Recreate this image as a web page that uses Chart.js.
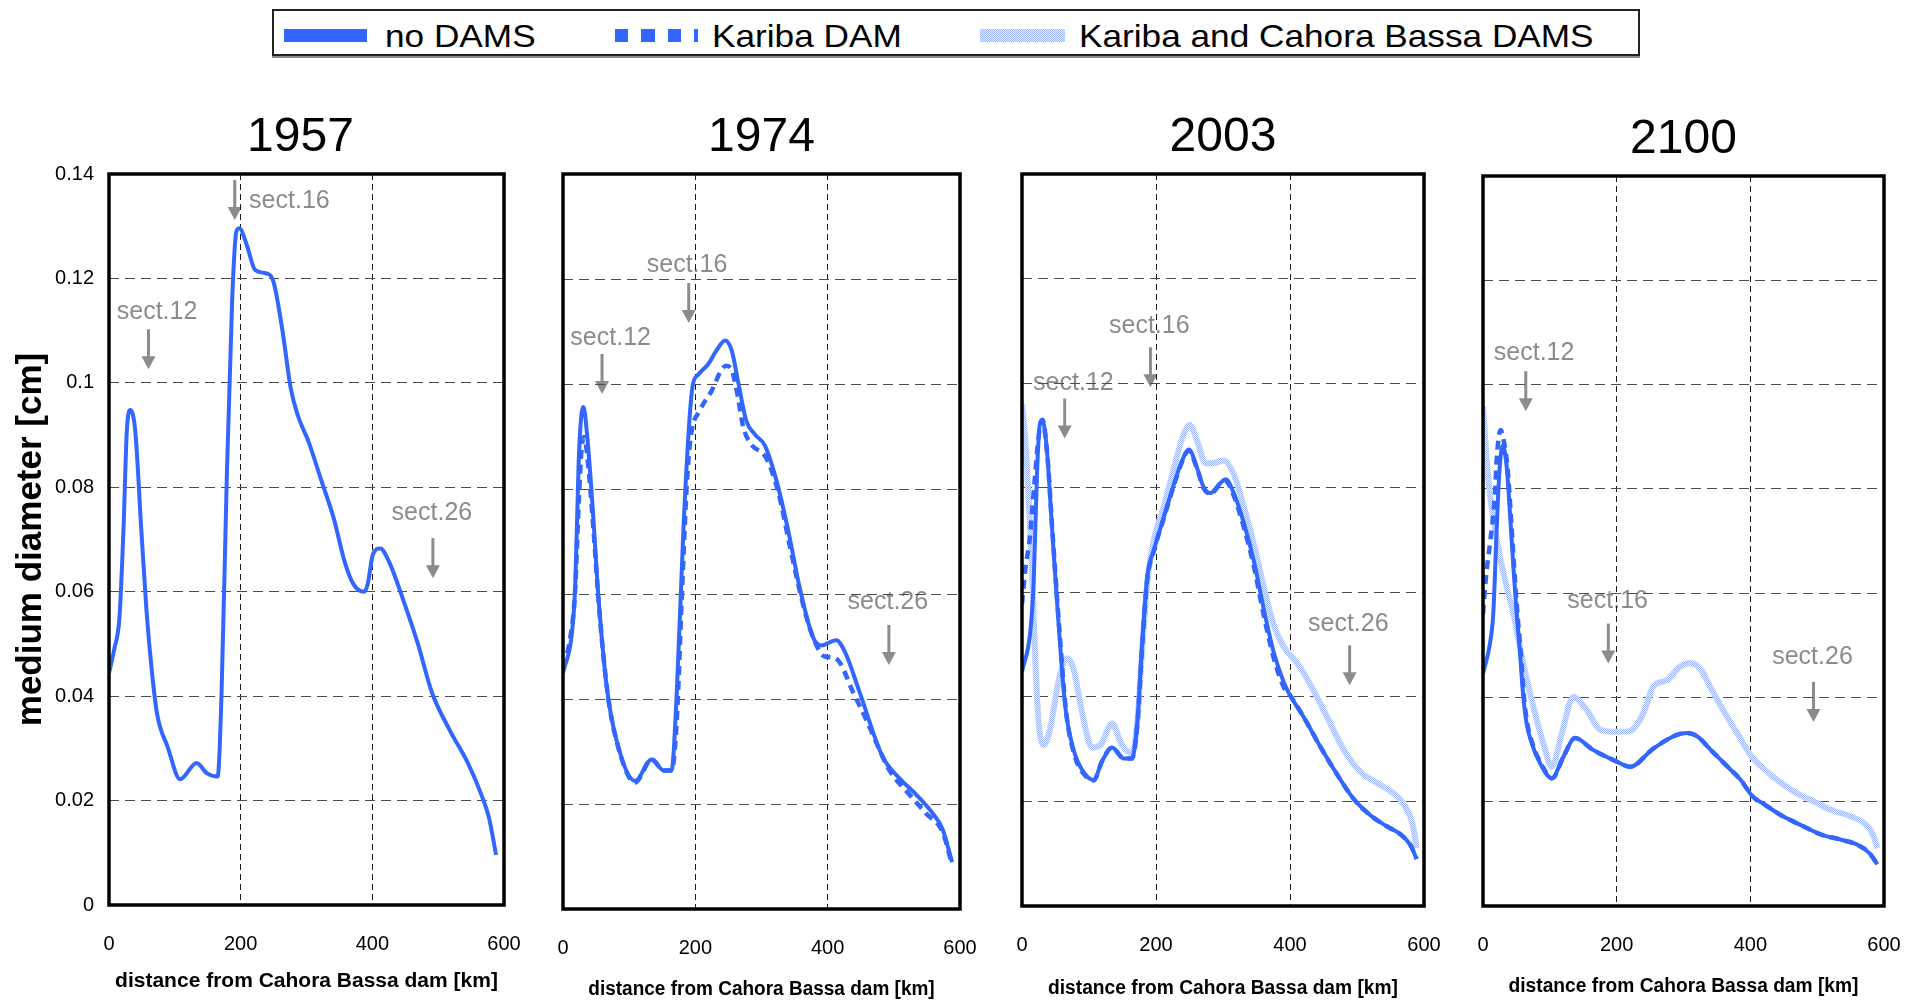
<!DOCTYPE html>
<html>
<head>
<meta charset="utf-8">
<title>Medium diameter along the Zambezi</title>
<script src="https://cdn.jsdelivr.net/npm/chart.js@4.4.1/dist/chart.umd.min.js"></script>
<style>
  html, body { margin: 0; padding: 0; background: #fff; }
  body { width: 1919px; height: 1004px; position: relative; overflow: hidden;
         font-family: "Liberation Sans", Arial, sans-serif; }
  canvas { position: absolute; }
  #legend { position: absolute; left: 272px; top: 9px; width: 1364px; height: 43px;
            border: 2px solid #222; box-shadow: 0 2px 0 #8a8a8a; background: #fff; }
  #legend .sw { position: absolute; top: 18px; height: 13px; }
  #legend .lt { position: absolute; top: 9px; font-size: 32px; line-height: 32px; color: #000;
                white-space: nowrap; transform: scaleX(1.1); transform-origin: 0 50%; }
</style>
</head>
<body>
<div id="legend">
  <div class="sw" id="sw0" style="left:10px;width:83px;background:#3366ff"></div>
  <span class="lt" id="lt0" style="left:111px"></span>
  <div class="sw" id="sw1" style="left:341px;width:83px;background:repeating-linear-gradient(90deg,#3366ff 0 13px,transparent 13px 26.5px)"></div>
  <span class="lt" id="lt1" style="left:438px"></span>
  <div class="sw" id="sw2" style="left:706px;width:85px;background:repeating-conic-gradient(#9fb6ff 0 25%,#e8edff 0 50%) 0 0/2px 2px"></div>
  <span class="lt" id="lt2" style="left:805px"></span>
</div>
<script>
// ---- labels ----
const seriesNames = ['no DAMS', 'Kariba DAM', 'Kariba and Cahora Bassa DAMS'];
const years = ['1957', '1974', '2003', '2100'];
const xTickLabels = ['0', '200', '400', '600'];
const yTickLabels = ['0', '0.02', '0.04', '0.06', '0.08', '0.1', '0.12', '0.14'];
const xTitle = 'distance from Cahora Bassa dam [km]';
const yTitle = 'medium diameter [cm]';
const noteLabels = ['sect.12', 'sect.16', 'sect.26'];

// ---- 1957: no dams ----
const km1957 = [0, 8, 16, 22, 27, 32.5, 40, 49, 57, 65, 73, 89, 108, 133, 149, 165, 171, 179, 187, 193.5, 198, 209, 222, 238, 249, 263, 276, 287, 303.5, 322.5, 341.5, 358, 371, 387.5, 393, 401, 412, 425.5, 447, 469, 490.5, 517.5, 545, 566, 577, 588];
const dia1957 = [0.0444, 0.049, 0.0553, 0.072, 0.0906, 0.0948, 0.0906, 0.072, 0.0563, 0.0449, 0.0366, 0.0303, 0.0241, 0.0272, 0.0252, 0.0246, 0.0407, 0.0823, 0.1156, 0.129, 0.1296, 0.1265, 0.1216, 0.121, 0.1197, 0.1104, 0.099, 0.0937, 0.0886, 0.0813, 0.074, 0.0657, 0.0615, 0.060, 0.0615, 0.0672, 0.0683, 0.0657, 0.0584, 0.0501, 0.0407, 0.0335, 0.0272, 0.021, 0.0168, 0.0096];

// ---- 1974: no dams / Kariba ----
const km1974 = [0, 13.6, 18.6, 23.6, 27, 31, 36, 43.7, 53.8, 66, 81, 109, 134, 152, 164, 172, 182, 191, 196, 204.5, 219.6, 232, 245, 255, 265, 277, 290, 305, 322.6, 340, 358, 378, 390.5, 413, 425.6, 448, 483, 508.5, 533.7, 558.8, 574, 588];
const dia1974 = [0.045, 0.0527, 0.062, 0.0847, 0.093, 0.0956, 0.0909, 0.0785, 0.059, 0.0424, 0.0321, 0.0244, 0.0285, 0.0264, 0.0264, 0.0414, 0.0723, 0.093, 0.0997, 0.1018, 0.1038, 0.1064, 0.1083, 0.1064, 0.1002, 0.093, 0.0904, 0.0883, 0.0816, 0.0723, 0.061, 0.0517, 0.0502, 0.0512, 0.0491, 0.0414, 0.029, 0.0249, 0.0218, 0.0182, 0.0151, 0.0089];
const km1974K = [0, 11, 18, 24, 28, 32, 38.7, 46, 54.8, 67, 82, 109, 134, 152, 164, 172, 179.4, 187, 193, 207, 224.6, 240, 247, 256, 265, 272, 282, 307.5, 325, 342.7, 363, 378, 395.5, 405, 418, 438, 456, 476, 493.5, 523.6, 548.7, 574, 586];
const dia1974K = [0.046, 0.0517, 0.06, 0.078, 0.0875, 0.0899, 0.0837, 0.0723, 0.057, 0.0415, 0.0315, 0.0241, 0.0285, 0.0264, 0.0264, 0.036, 0.059, 0.0806, 0.0899, 0.095, 0.0987, 0.1028, 0.1035, 0.1023, 0.0971, 0.092, 0.0889, 0.0858, 0.0796, 0.0692, 0.0579, 0.0517, 0.0481, 0.048, 0.047, 0.0414, 0.0367, 0.031, 0.0264, 0.0218, 0.0182, 0.0146, 0.0094];

// ---- 2003: no dams / Kariba / Kariba + Cahora Bassa ----
const km2003 = [0, 12.5, 17.4, 22.4, 26.4, 30.4, 37.4, 44.8, 54.8, 64.7, 77.2, 92, 107, 119.5, 134.5, 152, 164, 172, 179, 187, 197, 211.7, 226.6, 239, 249, 261.5, 271.4, 281.4, 294, 304, 316, 331, 346, 361, 376, 391, 401, 421, 446, 470.6, 495.5, 520.4, 545, 565, 580, 589];
const dia2003 = [0.0448, 0.0526, 0.0619, 0.0827, 0.092, 0.093, 0.0868, 0.0723, 0.0536, 0.038, 0.0298, 0.0256, 0.0241, 0.0277, 0.0303, 0.0282, 0.0282, 0.035, 0.0495, 0.063, 0.0681, 0.0744, 0.0806, 0.0852, 0.0873, 0.0837, 0.08, 0.079, 0.0806, 0.0816, 0.079, 0.0733, 0.066, 0.0567, 0.0484, 0.0427, 0.0401, 0.036, 0.0303, 0.0251, 0.0204, 0.0173, 0.0152, 0.0137, 0.0116, 0.009];
const km2003K = [0, 5, 11.5, 18.4, 25, 30.4, 37.4, 45.5, 56, 66, 78, 92, 107, 119.5, 134.5, 152, 164, 172, 179, 187, 197, 211.7, 226.6, 239, 249, 261.5, 271.4, 281.4, 294, 304, 316, 331, 346, 361, 376, 391, 401, 421, 446, 470.6, 495.5, 520.4, 545, 565, 580, 589];
const dia2003K = [0.0578, 0.0645, 0.0702, 0.0806, 0.09, 0.093, 0.0868, 0.0715, 0.0525, 0.037, 0.029, 0.0253, 0.024, 0.0277, 0.0303, 0.0282, 0.0282, 0.0345, 0.049, 0.0625, 0.068, 0.0742, 0.0804, 0.085, 0.0871, 0.0835, 0.0798, 0.0788, 0.0804, 0.0812, 0.0785, 0.0725, 0.065, 0.0555, 0.0473, 0.0418, 0.0401, 0.036, 0.0303, 0.0251, 0.0204, 0.0173, 0.0152, 0.0137, 0.0116, 0.009];
const km2003KC = [0, 5, 10, 15, 20, 25, 32.4, 42, 54.8, 67, 77, 89.6, 104.6, 117, 134.5, 149, 164, 172, 179, 187, 197, 211.7, 226.6, 239, 250.5, 261.5, 274, 284, 301, 316, 331, 346, 361, 376, 391, 411, 431, 456, 480.6, 505.5, 530.4, 555, 570, 582.7, 589];
const dia2003KC = [0.0961, 0.0889, 0.0775, 0.064, 0.0464, 0.0349, 0.0308, 0.0339, 0.0432, 0.0474, 0.0453, 0.037, 0.0303, 0.0308, 0.0349, 0.0308, 0.0292, 0.035, 0.0484, 0.0619, 0.0702, 0.0764, 0.0837, 0.0894, 0.092, 0.0889, 0.0847, 0.0847, 0.0852, 0.0826, 0.0764, 0.0692, 0.0609, 0.0536, 0.0495, 0.0464, 0.0422, 0.036, 0.0298, 0.0256, 0.0235, 0.0215, 0.0194, 0.0158, 0.0111];

// ---- 2100: no dams / Kariba / Kariba + Cahora Bassa ----
const km2100 = [0, 10.5, 15.4, 20.4, 24.4, 29.4, 35.4, 40.4, 45.4, 50.4, 55.4, 60.3, 65.3, 72.9, 85.3, 102.8, 120.2, 137.7, 165, 200, 220, 254.8, 289.8, 306, 321, 341, 366, 386, 403.5, 421, 446, 471, 506, 536, 561, 578.5, 590];
const dia2100 = [0.0446, 0.0504, 0.0561, 0.0721, 0.083, 0.0883, 0.0843, 0.0753, 0.0651, 0.0561, 0.0485, 0.0401, 0.035, 0.0312, 0.0274, 0.0245, 0.0286, 0.0322, 0.0299, 0.0277, 0.0267, 0.0302, 0.0328, 0.0332, 0.0325, 0.0299, 0.0267, 0.0241, 0.021, 0.0195, 0.0174, 0.0158, 0.0137, 0.0127, 0.0117, 0.0101, 0.008];
const km2100K = [0, 4.5, 10.5, 18, 20.4, 26.4, 31.4, 36.5, 41.5, 46.5, 51.5, 56.5, 61.3, 66.3, 73.9, 86.3, 103.8, 120.2, 137.7, 165, 200, 220, 254.8, 289.8, 306, 321, 341, 366, 386, 403.5, 421, 446, 471, 506, 536, 561, 578.5, 590];
const dia2100K = [0.056, 0.0632, 0.0696, 0.0791, 0.0855, 0.0913, 0.089, 0.0843, 0.0753, 0.0651, 0.0561, 0.0485, 0.0401, 0.035, 0.0312, 0.0274, 0.0245, 0.0286, 0.0322, 0.0299, 0.0277, 0.0267, 0.0302, 0.0328, 0.0332, 0.0325, 0.0299, 0.0267, 0.0241, 0.021, 0.0195, 0.0174, 0.0158, 0.0137, 0.0127, 0.0117, 0.0101, 0.008];
const km2100KC = [0, 8, 18, 33, 45.4, 60.3, 75.3, 90.2, 102.8, 117.8, 135.1, 155.2, 175.1, 200, 220, 239.9, 254.8, 274.8, 294.8, 310, 325, 341, 361, 381, 401, 421, 446, 471, 496, 521, 546, 571, 583.5, 590];
const dia2100KC = [0.0958, 0.0817, 0.0721, 0.0625, 0.0561, 0.0465, 0.0382, 0.0312, 0.0267, 0.0331, 0.0401, 0.0376, 0.0338, 0.0334, 0.0336, 0.037, 0.0421, 0.0433, 0.0459, 0.0466, 0.0455, 0.0418, 0.0372, 0.033, 0.0288, 0.0262, 0.0236, 0.0215, 0.02, 0.0184, 0.0174, 0.0158, 0.0137, 0.0111];

// ---- section markers (label centre and arrow tip, in km / cm) ----
const noteX1957 = [73, 274, 490.5],   noteY1957 = [0.1135, 0.1348, 0.075];
const arrowX1957 = [60, 191, 492],    arrowTip1957 = [0.1026, 0.1312, 0.0626];
const noteX1974 = [72, 187.5, 491],   noteY1974 = [0.1088, 0.1227, 0.0584];
const arrowX1974 = [59, 190, 492.5],  arrowTip1974 = [0.0981, 0.1116, 0.0465];
const noteX2003 = [76.7, 190, 487],   noteY2003 = [0.1001, 0.1109, 0.0539];
const arrowX2003 = [63.7, 191.7, 489], arrowTip2003 = [0.0894, 0.0992, 0.0422];
const noteX2100 = [76.5, 186.5, 493], noteY2100 = [0.106, 0.0585, 0.0478];
const arrowX2100 = [64, 187.5, 494.5], arrowTip2100 = [0.0949, 0.0465, 0.0353];

// ---- styling ----
const FONT = '"Liberation Sans", Arial, sans-serif';
const BLUE = '#3366ff';
const NOTE_GRAY = '#8c8c8c';
Chart.defaults.font.family = FONT;
Chart.defaults.color = '#000';

seriesNames.forEach((n, i) => { document.getElementById('lt' + i).textContent = n; });

function pairs(xs, ys) { return xs.map((x, i) => ({ x, y: ys[i] })); }

// fine light-blue dither used for the "both dams" line
function hatch(ctx) {
  const t = document.createElement('canvas');
  t.width = 2; t.height = 2;
  const g = t.getContext('2d');
  g.fillStyle = '#e8edff'; g.fillRect(0, 0, 2, 2);
  g.fillStyle = '#9fb6ff'; g.fillRect(0, 0, 1, 1); g.fillRect(1, 1, 1, 1);
  return ctx.createPattern(t, 'repeat');
}

// frame, year heading, axis titles and section markers
const panelDecor = {
  id: 'panelDecor',
  beforeDraw(chart, args, o) {
    const { ctx } = chart;
    const xs = chart.scales.x, ys = chart.scales.y;
    ctx.save();
    ctx.fillStyle = NOTE_GRAY; ctx.strokeStyle = NOTE_GRAY;
    ctx.font = '25px ' + FONT;
    ctx.textAlign = 'center'; ctx.textBaseline = 'middle';
    for (let i = 0; i < noteLabels.length; i++) {
      ctx.fillText(noteLabels[i], xs.getPixelForValue(o.noteX[i]), ys.getPixelForValue(o.noteY[i]));
      const ax = xs.getPixelForValue(o.arrowX[i]);
      const tip = ys.getPixelForValue(o.arrowTip[i]);
      ctx.lineWidth = 3;
      ctx.beginPath(); ctx.moveTo(ax, tip - 40); ctx.lineTo(ax, tip - 11); ctx.stroke();
      ctx.beginPath(); ctx.moveTo(ax - 7, tip - 13); ctx.lineTo(ax + 7, tip - 13); ctx.lineTo(ax, tip);
      ctx.closePath(); ctx.fill();
    }
    ctx.restore();
  },
  afterDraw(chart, args, o) {
    const { ctx, chartArea: ca } = chart;
    const cx = (ca.left + ca.right) / 2;
    ctx.save();
    ctx.lineWidth = 3.5; ctx.strokeStyle = '#000';
    ctx.strokeRect(ca.left, ca.top, ca.right - ca.left, ca.bottom - ca.top);
    ctx.fillStyle = '#000'; ctx.textAlign = 'center'; ctx.textBaseline = 'middle';
    ctx.font = '48px ' + FONT;
    ctx.fillText(o.year, cx + o.yearShift, ca.top - 36);
    ctx.save();
    ctx.translate(cx, ca.bottom + o.xTitleGap); ctx.scale(o.xTitleStretch, 1);
    ctx.font = 'bold 20px ' + FONT;
    ctx.fillText(xTitle, 0, 0);
    ctx.restore();
    if (o.showY) {
      ctx.save();
      ctx.translate(ca.left - 78, (ca.top + ca.bottom) / 2); ctx.rotate(-Math.PI / 2);
      ctx.font = 'bold 35px ' + FONT;
      ctx.fillText(yTitle, 0, 0);
      ctx.restore();
    }
    ctx.restore();
  }
};

function makePanel(p) {
  const canvas = document.createElement('canvas');
  canvas.width = p.w; canvas.height = 934;
  canvas.style.left = p.left + 'px'; canvas.style.top = '70px';
  document.body.appendChild(canvas);
  const ctx = canvas.getContext('2d');

  const styles = [
    { borderColor: BLUE, borderWidth: 4 },
    { borderColor: BLUE, borderWidth: 4.5, borderDash: [9, 6] },
    { borderColor: hatch(ctx), borderWidth: 6 }
  ];
  const datasets = p.series.map((s, i) => Object.assign({
    label: seriesNames[i],
    data: pairs(s[0], s[1]),
    pointRadius: 0, fill: false,
    cubicInterpolationMode: 'monotone',
    borderCapStyle: 'butt', borderJoinStyle: 'round'
  }, styles[i]));

  new Chart(ctx, {
    type: 'line',
    data: { datasets },
    options: {
      responsive: false, animation: false, events: [],
      layout: { padding: { left: 0, right: p.padRight, top: p.padTop, bottom: 0 } },
      plugins: {
        legend: { display: false }, tooltip: { enabled: false }, title: { display: false },
        panelDecor: { year: p.year, yearShift: p.yearShift, showY: p.showY,
                      xTitleGap: p.xTitleGap, xTitleStretch: p.xTitleStretch,
                      noteX: p.noteX, noteY: p.noteY, arrowX: p.arrowX, arrowTip: p.arrowTip }
      },
      scales: {
        x: {
          type: 'linear', min: 0, max: 600,
          afterFit: s => { s.height = p.xHeight; s.paddingLeft = 0; s.paddingRight = 0; },
          ticks: { stepSize: 200, padding: 27, font: { size: 20 }, color: '#000',
                   callback: (v, i) => xTickLabels[i] },
          grid: { drawTicks: false, lineWidth: 1,
                  color: c => (c.tick && c.tick.value > 0 && c.tick.value < 600) ? '#1a1a1a' : 'rgba(0,0,0,0)' },
          border: { display: false, dash: [6, 4] }
        },
        y: {
          min: 0, max: 0.14,
          afterFit: s => { s.width = p.yWidth; },
          ticks: { display: p.showY, stepSize: 0.02, padding: 15, font: { size: 20 }, color: '#000',
                   callback: (v, i) => yTickLabels[i] },
          grid: { drawTicks: false, lineWidth: 1,
                  color: c => (c.tick && c.tick.value > 0 && c.tick.value < 0.14) ? '#4d4d4d' : 'rgba(0,0,0,0)' },
          border: { display: false, dash: [10, 6] }
        }
      }
    },
    plugins: [panelDecor]
  });
}

makePanel({ year: years[0], yearShift: -6, left: 0, w: 530, yWidth: 109, padRight: 26, padTop: 104, xHeight: 99, showY: true,
  xTitleGap: 76, xTitleStretch: 1.05,
  series: [[km1957, dia1957]],
  noteX: noteX1957, noteY: noteY1957, arrowX: arrowX1957, arrowTip: arrowTip1957 });
makePanel({ year: years[1], yearShift: 0, left: 530, w: 460, yWidth: 33, padRight: 30, padTop: 104, xHeight: 95, showY: false,
  xTitleGap: 80, xTitleStretch: 0.95,
  series: [[km1974, dia1974], [km1974K, dia1974K]],
  noteX: noteX1974, noteY: noteY1974, arrowX: arrowX1974, arrowTip: arrowTip1974 });
makePanel({ year: years[2], yearShift: 0, left: 990, w: 460, yWidth: 32, padRight: 26, padTop: 104, xHeight: 98, showY: false,
  xTitleGap: 82, xTitleStretch: 0.96,
  series: [[km2003, dia2003], [km2003K, dia2003K], [km2003KC, dia2003KC]],
  noteX: noteX2003, noteY: noteY2003, arrowX: arrowX2003, arrowTip: arrowTip2003 });
makePanel({ year: years[3], yearShift: 0, left: 1450, w: 469, yWidth: 33, padRight: 35, padTop: 106, xHeight: 98, showY: false,
  xTitleGap: 80, xTitleStretch: 0.96,
  series: [[km2100, dia2100], [km2100K, dia2100K], [km2100KC, dia2100KC]],
  noteX: noteX2100, noteY: noteY2100, arrowX: arrowX2100, arrowTip: arrowTip2100 });
</script>
</body>
</html>
